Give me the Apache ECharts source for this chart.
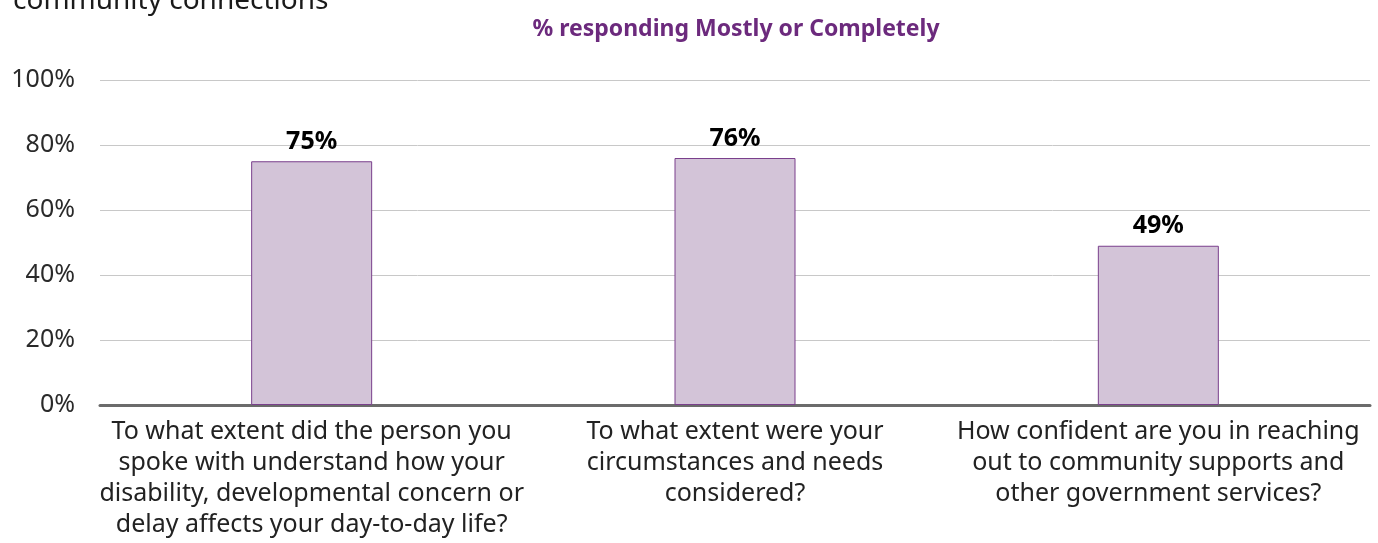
<!DOCTYPE html>
<html>
<head>
<meta charset="utf-8">
<script src="https://cdn.jsdelivr.net/npm/echarts@6/dist/echarts.min.js"></script>
<style>
  html, body { margin: 0; padding: 0; background: #fff; }
  #chart { width: 1378px; height: 543px; }
</style>
</head>
<body>
<div id="chart"></div>
<script>
// Survey questions (x-axis categories)
const categories = [
  'To what extent did the person you\nspoke with understand how your\ndisability, developmental concern or\ndelay affects your day-to-day life?',
  'To what extent were your\ncircumstances and needs\nconsidered?',
  'How confident are you in reaching\nout to community supports and\nother government services?'
];
// Share responding Mostly or Completely (%)
const values = [75, 76, 49];
// Value axis ticks
const yTicks = [0, 20, 40, 60, 80, 100];

const FONT = '"Noto Sans", "Open Sans", sans-serif';

const chart = echarts.init(document.getElementById('chart'));
chart.setOption({
  animation: false,
  title: [
    {
      text: 'community connections',
      left: 8,
      top: -18,
      textStyle: { fontFamily: FONT, fontSize: 28, fontWeight: 'normal', color: '#1a1a1a' }
    },
    {
      text: '% responding Mostly or Completely',
      left: 731,
      textAlign: 'center',
      top: 13,
      textStyle: { fontFamily: FONT, fontSize: 23, fontWeight: 'bold', color: '#6c2a7d' }
    }
  ],
  grid: { left: 100, right: 8, top: 80, bottom: 138 },
  xAxis: {
    type: 'category',
    data: categories,
    axisLine: { lineStyle: { color: '#6b6b6b', width: 3 } },
    axisTick: { show: false },
    axisLabel: {
      interval: 0,
      margin: 11,
      fontFamily: FONT,
      fontSize: 25,
      lineHeight: 31,
      color: '#222',
      align: 'center'
    }
  },
  yAxis: {
    type: 'value',
    min: yTicks[0],
    max: yTicks[yTicks.length - 1],
    interval: yTicks[1] - yTicks[0],
    axisLine: { show: false },
    axisTick: { show: false },
    splitLine: { lineStyle: { color: '#c8c8c8', width: 1 } },
    axisLabel: {
      margin: 25,
      fontFamily: FONT,
      fontSize: 25,
      color: '#2a2a2a',
      formatter: v => v + '%'
    }
  },
  series: [{
    type: 'bar',
    data: values,
    barWidth: 121,
    itemStyle: { color: '#d3c4d8', borderColor: '#7a3f8c', borderWidth: 1 },
    label: {
      show: true,
      position: 'top',
      distance: 7,
      fontFamily: FONT,
      fontSize: 25,
      fontWeight: 'bold',
      color: '#000',
      formatter: p => p.value + '%'
    }
  }]
});
</script>
</body>
</html>
